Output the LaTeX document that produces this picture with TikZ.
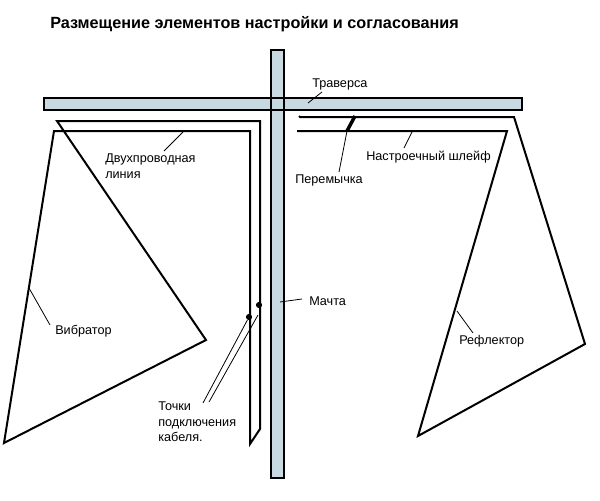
\documentclass[tikz,border=0pt]{standalone}
\usepackage{fontspec}
\setmainfont{Liberation Sans}
\tikzset{
  bar/.style={draw=black,fill=barfill,line width=1.5pt},
  wire/.style={draw=black,line width=1.5pt,line join=miter},
  leader/.style={draw=black,line width=0.6pt},
  lbl/.style={anchor=west,inner sep=0pt,font=\fontsize{9.5pt}{11.7pt}\selectfont,align=left},
  dot/.style={circle,fill=black,inner sep=0pt,minimum size=4.6pt}
}
\definecolor{barfill}{HTML}{C8D9E1}
\begin{document}
\begin{tikzpicture}[x=0.75pt,y=-0.75pt]
\useasboundingbox (0,0) rectangle (600,500);
\node[anchor=west,inner sep=0pt,font=\bfseries\fontsize{12.15pt}{14pt}\selectfont] (title) at (50,24) {Размещение элементов настройки и согласования};
% mast and traverse
\path[fill=barfill] (271,50) rectangle (284,478);
\path[fill=barfill] (44,98) rectangle (522,110);
\draw[line width=1.7pt] (271,50) rectangle (284,478);
\draw[line width=1.7pt] (44,98) rectangle (522,110);
% vibrator and line
\draw[wire] (57,121) -- (260,121) -- (260,429) -- (250,444) -- (250,131) -- (54,131) -- (4,443) -- (206,340) -- cycle;
% reflector and stub
\draw[wire] (299,116) -- (300,117) -- (514,117) -- (585,344) -- (418,436) -- (507,131) -- (297,131);
\draw[line width=2.6pt] (355,116) -- (347,131);
% connection points
\node[dot] (p1) at (249,317) {};
\node[dot] (p2) at (259,305) {};
% labels
\node[lbl] (trav) at (312,84) {Траверса};
\node[lbl] (dvuh) at (105,166) {Двухпроводная\\линия};
\node[lbl] (nast) at (366,157) {Настроечный шлейф};
\node[lbl] (perem) at (295,180) {Перемычка};
\node[lbl] (macht) at (309,301) {Мачта};
\node[lbl] (vibr) at (55,331) {Вибратор};
\node[lbl] (refl) at (459,341) {Рефлектор};
\node[lbl] (toch) at (158,422) {Точки\\подключения\\кабеля.};
% leaders
\coordinate (t1) at (322,92); \coordinate (t2) at (308,103);
\coordinate (d1) at (183,132); \coordinate (d2) at (164,151);
\coordinate (n1) at (412,132); \coordinate (n2) at (404,148);
\coordinate (e1) at (347,131); \coordinate (e2) at (339,172);
\coordinate (m1) at (280,302); \coordinate (m2) at (302,299);
\coordinate (v1) at (29,288); \coordinate (v2) at (50,325);
\coordinate (r1) at (457,311); \coordinate (r2) at (473,333);
\coordinate (c1) at (203,403); \coordinate (c2) at (209,402); \coordinate (c3) at (258,315);
\draw[leader] (t1) -- (t2);
\draw[leader] (d1) -- (d2);
\draw[leader] (n1) -- (n2);
\draw[leader] (e1) -- (e2);
\draw[leader] (m1) -- (m2);
\draw[leader] (v1) -- (v2);
\draw[leader] (r1) -- (r2);
\draw[leader] (p1) -- (c1);
\draw[leader] (c3) -- (c2);
\end{tikzpicture}
\end{document}
